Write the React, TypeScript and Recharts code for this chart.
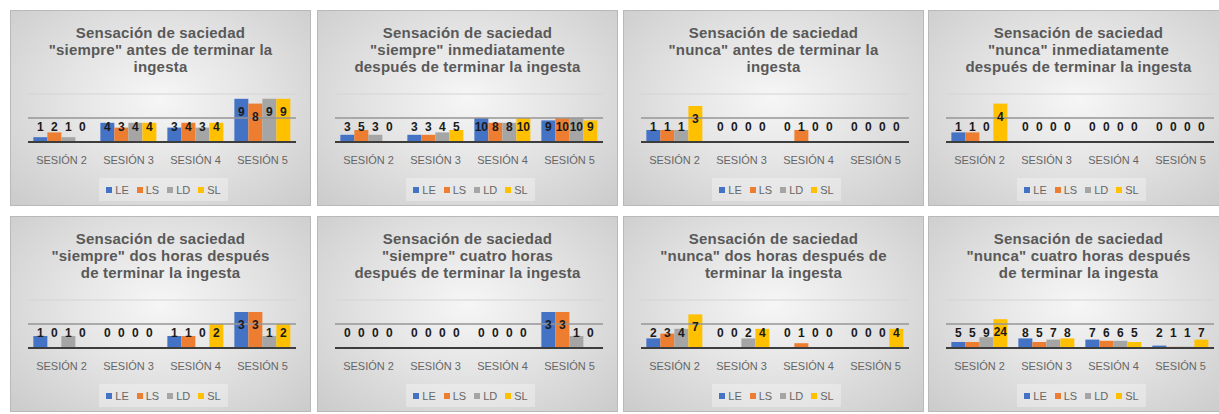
import { Bar, BarChart, LabelList, ReferenceLine, XAxis, YAxis } from "recharts";

const sessions: string[] = ["SESIÓN 2", "SESIÓN 3", "SESIÓN 4", "SESIÓN 5"];
const seriesNames: string[] = ["LE", "LS", "LD", "SL"];
const seriesColors: string[] = ["#4472C4", "#ED7D31", "#A5A5A5", "#FFC000"];

// one row per serie (LE, LS, LD, SL), one value per session
const siempreAntes: number[][] = [[1, 4, 3, 9], [2, 3, 4, 8], [1, 4, 3, 9], [0, 4, 4, 9]];
const siempreInmediato: number[][] = [[3, 3, 10, 9], [5, 3, 8, 10], [3, 4, 8, 10], [0, 5, 10, 9]];
const nuncaAntes: number[][] = [[1, 0, 0, 0], [1, 0, 1, 0], [1, 0, 0, 0], [3, 0, 0, 0]];
const nuncaInmediato: number[][] = [[1, 0, 0, 0], [1, 0, 0, 0], [0, 0, 0, 0], [4, 0, 0, 0]];
const siempreDosHoras: number[][] = [[1, 0, 1, 3], [0, 0, 1, 3], [1, 0, 0, 1], [0, 0, 2, 2]];
const siempreCuatroHoras: number[][] = [[0, 0, 0, 3], [0, 0, 0, 3], [0, 0, 0, 1], [0, 0, 0, 0]];
const nuncaDosHoras: number[][] = [[2, 0, 0, 0], [3, 0, 1, 0], [4, 2, 0, 0], [7, 4, 0, 4]];
const nuncaCuatroHoras: number[][] = [[5, 8, 7, 2], [5, 5, 6, 1], [9, 7, 6, 1], [24, 8, 5, 7]];

// gridlines (middle, top) of each value axis
const siempreAntesTicks = [5, 10];
const siempreInmediatoTicks = [10, 20];
const nuncaAntesTicks = [2, 4];
const nuncaInmediatoTicks = [2.5, 5];
const siempreDosHorasTicks = [2, 4];
const siempreCuatroHorasTicks = [2, 4];
const nuncaDosHorasTicks = [5, 10];
const nuncaCuatroHorasTicks = [20, 40];

const FONT = "'Liberation Sans', Arial, sans-serif";
const PANEL_W = 301;
const PANEL_H = 196;

const renderValue = (props: any) => {
    const { x, y, width, height, value } = props;
    const base = Number(y) + Number(height);
    const cy = Math.min(Number(y) + 13, base - 15);
    return (
        <text
            x={Number(x) + Number(width) / 2}
            y={cy + 4}
            textAnchor="middle"
            fontSize={12}
            fontWeight="bold"
            fill="#1a1a1a"
            fontFamily={FONT}
        >
            {String(value)}
        </text>
    );
};

const renderTick = (props: any) => {
    const { x, y, payload } = props;
    return (
        <text x={x} y={y + 22} textAnchor="middle" fontSize={11} fill="#666666" fontFamily={FONT}>
            {payload.value}
        </text>
    );
};

function Panel({ title, values, ticks, left, top }: { title: string[]; values: number[][]; ticks: number[]; left: number; top: number }) {
    const data = sessions.map((session, i) => {
        const row: any = { session };
        seriesNames.forEach((name, s) => {
            row[name] = values[s][i];
        });
        return row;
    });

    return (
        <div
            style={{
                position: "absolute",
                left,
                top,
                width: PANEL_W,
                height: PANEL_H,
                boxSizing: "border-box",
                border: "1px solid #b9b9b9",
                background: "radial-gradient(ellipse at 50% 45%, #f6f6f6 0%, #e4e4e4 45%, #cbcbcb 100%)",
            }}
        >
            <div
                style={{
                    position: "absolute",
                    left: 0,
                    top: 13,
                    width: "100%",
                    textAlign: "center",
                    fontFamily: FONT,
                    fontWeight: "bold",
                    fontSize: 15,
                    letterSpacing: 0.2,
                    lineHeight: "17px",
                    color: "#595959",
                }}
            >
                {title.map((line) => (
                    <div key={line}>{line}</div>
                ))}
            </div>

            <div style={{ position: "absolute", left: -1, top: -1 }}>
                <BarChart
                    width={PANEL_W}
                    height={PANEL_H}
                    data={data}
                    margin={{ top: 84, right: 15, bottom: 0, left: 18 }}
                    barCategoryGap="8%"
                    barGap={0}
                >
                    <YAxis hide domain={[0, ticks[1]]} ticks={[0, ...ticks]} />
                    <ReferenceLine y={ticks[1]} stroke="#d4d4d4" strokeWidth={1} />
                    <ReferenceLine y={ticks[0]} stroke="#969696" strokeWidth={1.5} />
                    {seriesNames.map((name, s) => (
                        <Bar key={name} dataKey={name} fill={seriesColors[s]} minPointSize={0.5} isAnimationActive={false}>
                            <LabelList dataKey={name} content={renderValue} />
                        </Bar>
                    ))}
                    <XAxis
                        dataKey="session"
                        height={64}
                        axisLine={{ stroke: "#3d3d3d", strokeWidth: 2 }}
                        tickLine={false}
                        tickSize={0}
                        tickMargin={0}
                        interval={0}
                        tick={renderTick}
                    />
                </BarChart>
            </div>

            <div
                style={{
                    position: "absolute",
                    left: 88,
                    top: 167,
                    width: 129,
                    height: 23,
                    background: "rgba(255,255,255,0.3)",
                    display: "flex",
                    justifyContent: "center",
                    alignItems: "center",
                    gap: 8,
                    fontFamily: FONT,
                    fontSize: 11,
                    color: "#666666",
                }}
            >
                {seriesNames.map((name, s) => (
                    <div key={name} style={{ display: "flex", alignItems: "center", gap: 3 }}>
                        <span style={{ width: 6, height: 6, background: seriesColors[s], display: "inline-block" }} />
                        <span>{name}</span>
                    </div>
                ))}
            </div>
        </div>
    );
}

export default function App() {
    const lefts = [10, 317, 623, 928];
    const tops = [10, 216];

    return (
        <div style={{ position: "absolute", left: 0, top: 0, width: 1219, height: 414, background: "#ffffff", overflow: "hidden" }}>
            <Panel title={["Sensación de saciedad", "\"siempre\" antes de terminar la", "ingesta"]} values={siempreAntes} ticks={siempreAntesTicks} left={lefts[0]} top={tops[0]} />
            <Panel title={["Sensación de saciedad", "\"siempre\" inmediatamente", "después de terminar la ingesta"]} values={siempreInmediato} ticks={siempreInmediatoTicks} left={lefts[1]} top={tops[0]} />
            <Panel title={["Sensación de saciedad", "\"nunca\" antes de terminar la", "ingesta"]} values={nuncaAntes} ticks={nuncaAntesTicks} left={lefts[2]} top={tops[0]} />
            <Panel title={["Sensación de saciedad", "\"nunca\" inmediatamente", "después de terminar la ingesta"]} values={nuncaInmediato} ticks={nuncaInmediatoTicks} left={lefts[3]} top={tops[0]} />
            <Panel title={["Sensación de saciedad", "\"siempre\" dos horas después", "de terminar la ingesta"]} values={siempreDosHoras} ticks={siempreDosHorasTicks} left={lefts[0]} top={tops[1]} />
            <Panel title={["Sensación de saciedad", "\"siempre\" cuatro horas", "después de terminar la ingesta"]} values={siempreCuatroHoras} ticks={siempreCuatroHorasTicks} left={lefts[1]} top={tops[1]} />
            <Panel title={["Sensación de saciedad", "\"nunca\" dos horas después de", "terminar la ingesta"]} values={nuncaDosHoras} ticks={nuncaDosHorasTicks} left={lefts[2]} top={tops[1]} />
            <Panel title={["Sensación de saciedad", "\"nunca\" cuatro horas después", "de terminar la ingesta"]} values={nuncaCuatroHoras} ticks={nuncaCuatroHorasTicks} left={lefts[3]} top={tops[1]} />
        </div>
    );
}
